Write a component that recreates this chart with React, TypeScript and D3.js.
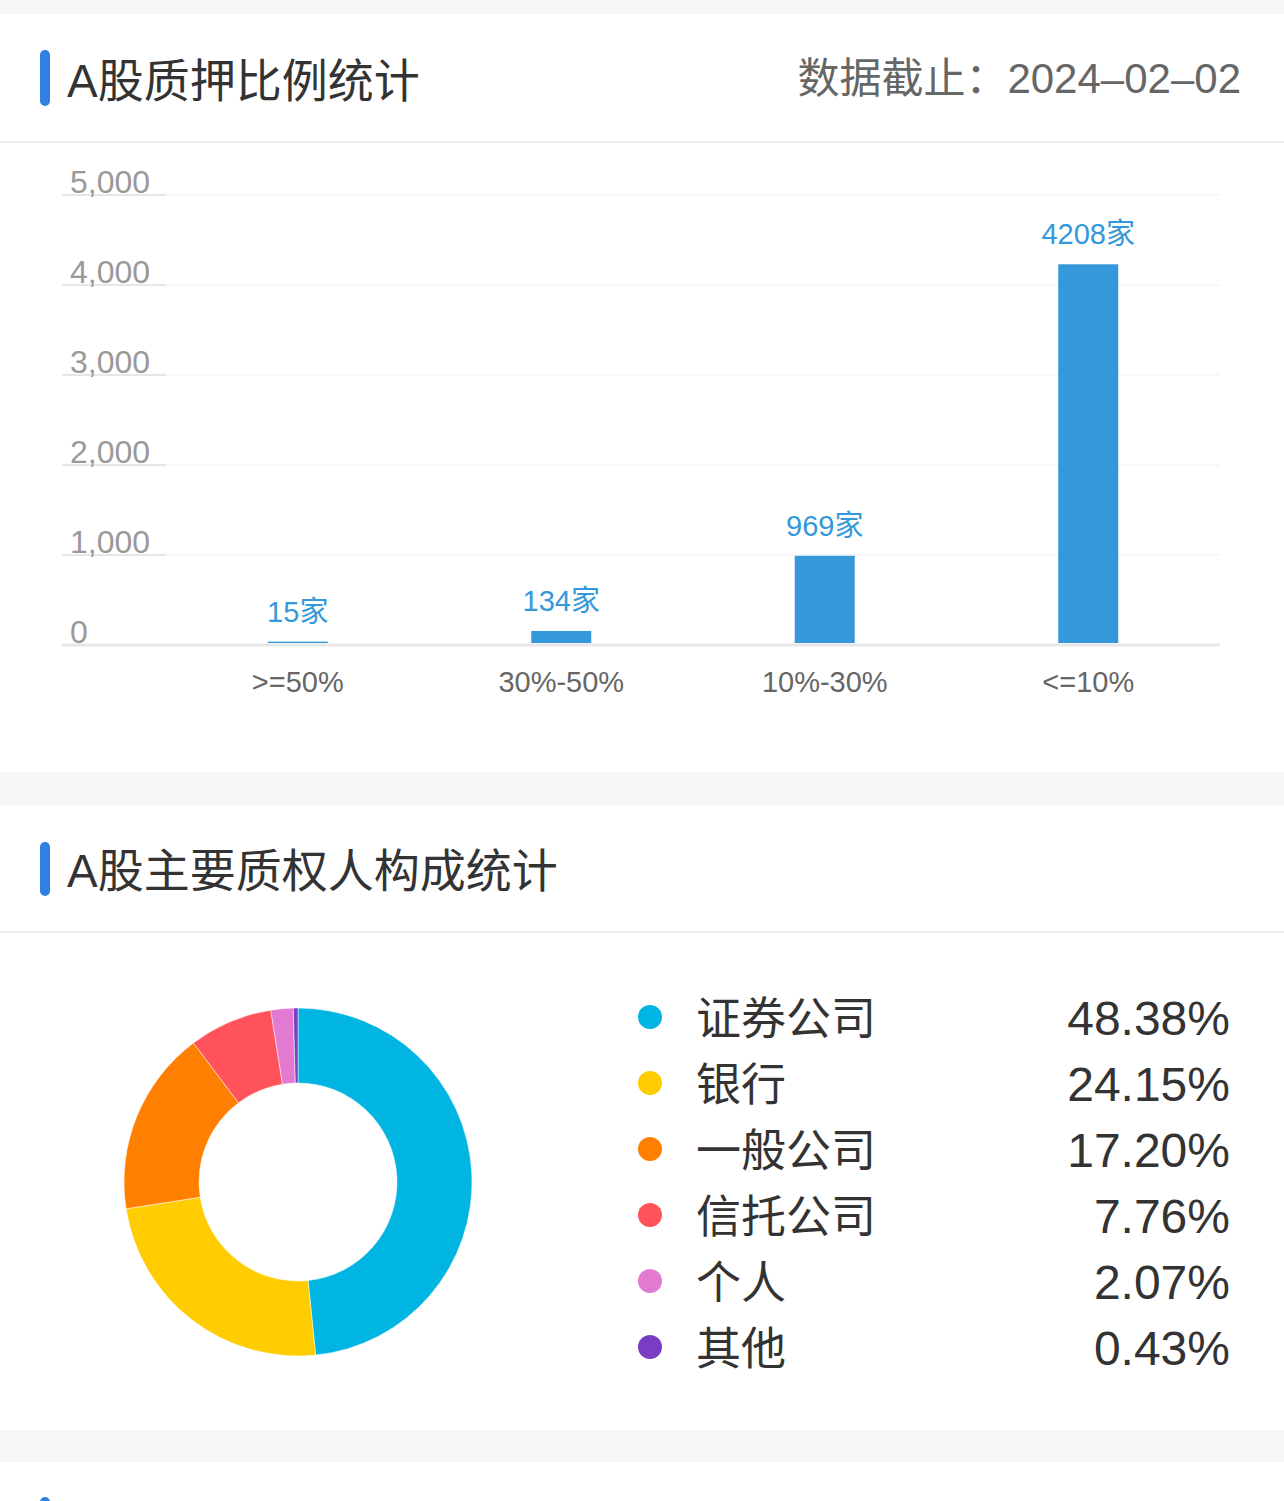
import React from "react";
import * as d3 from "d3";

const barCategories = [">=50%", "30%-50%", "10%-30%", "<=10%"];
const barValues = [15, 134, 969, 4208];
const yTicks = [0, 1000, 2000, 3000, 4000, 5000];

const pieLabels = ["证券公司", "银行", "一般公司", "信托公司", "个人", "其他"];
const pieValues = [48.38, 24.15, 17.2, 7.76, 2.07, 0.43];
const pieColors = ["#00B5E2", "#FFCC00", "#FF8000", "#FF525B", "#E37AD1", "#7A3CC2"];

const FONT = "'Liberation Sans', Arial, 'Noto Sans CJK SC', sans-serif";

export default function App() {
  const W = 1284;
  const H = 1501;

  const x = d3
    .scaleBand<string>()
    .domain(barCategories)
    .range([166, 1220])
    .paddingInner(1 - 60 / 263.5)
    .paddingOuter((1 - 60 / 263.5) / 2);
  const y = d3.scaleLinear().domain([0, 5000]).range([645, 195]);
  const fmt = d3.format(",");

  const pie = d3
    .pie<number>()
    .sort(null)
    .startAngle(0)
    .endAngle(Math.PI * 2)
    .value((d) => d);
  const arcs = pie(pieValues);
  const arc = d3.arc<d3.PieArcDatum<number>>().innerRadius(99).outerRadius(174);

  const legendY = d3.scalePoint<number>().domain(d3.range(pieLabels.length)).range([1017, 1347]);

  return (
    <svg
      width={W}
      height={H}
      style={{ position: "absolute", left: 0, top: 0, display: "block" }}
      fontFamily={FONT}
    >
      <rect x={0} y={0} width={W} height={H} fill="#ffffff" />
      {/* gray bands */}
      <rect x={0} y={0} width={W} height={14} fill="#f5f6f8" />
      <rect x={0} y={772} width={W} height={33} fill="#f5f6f8" />
      <rect x={0} y={1430} width={W} height={32} fill="#f5f6f8" />

      {/* header 1 */}
      <rect x={40} y={50} width={10} height={56} rx={5} fill="#2F80E4" />
      <text x={67} y={97} fontSize={46} fill="#333333">
        A股质押比例统计
      </text>
      <text x={1241} y={93} fontSize={42} fill="#666666" textAnchor="end">
        数据截止：2024–02–02
      </text>
      <line x1={0} x2={W} y1={142} y2={142} stroke="#eeeeee" strokeWidth={2} />

      {/* grid */}
      {yTicks.map((t) => (
        <g key={t}>
          {t === 0 ? (
            <line x1={62} x2={1220} y1={y(t)} y2={y(t)} stroke="#e8e8e8" strokeWidth={3} />
          ) : (
            <>
              <line x1={62} x2={1220} y1={y(t)} y2={y(t)} stroke="#efefef" strokeWidth={1.2} />
              <line x1={62} x2={166} y1={y(t)} y2={y(t)} stroke="#e6e6e6" strokeWidth={2} />
            </>
          )}
          <text x={70} y={y(t) - 2} fontSize={32} fill="#999999">
            {fmt(t)}
          </text>
        </g>
      ))}

      {/* bars */}
      {barCategories.map((c, i) => {
        const bx = x(c) as number;
        const cx = bx + x.bandwidth() / 2;
        const top = y(barValues[i]) - 2;
        const bottom = y(0) - 2;
        return (
          <g key={c}>
            <rect x={bx} y={top} width={x.bandwidth()} height={bottom - top} fill="#3498DB" />
            <text x={cx} y={top - 20} fontSize={29} fill="#3498DB" textAnchor="middle">
              {barValues[i]}家
            </text>
            <text x={cx} y={692} fontSize={29} fill="#666666" textAnchor="middle">
              {c}
            </text>
          </g>
        );
      })}

      {/* header 2 */}
      <rect x={40} y={842} width={10} height={54} rx={5} fill="#2F80E4" />
      <text x={67} y={887} fontSize={46} fill="#333333">
        A股主要质权人构成统计
      </text>
      <line x1={0} x2={W} y1={932} y2={932} stroke="#eeeeee" strokeWidth={2} />

      {/* donut */}
      <g transform="translate(298,1182)">
        {arcs.map((a, i) => (
          <path key={i} d={arc(a) as string} fill={pieColors[i]} stroke="#ffffff" strokeWidth={0.5} />
        ))}
      </g>

      {/* legend */}
      {pieLabels.map((l, i) => {
        const cy = legendY(i) as number;
        return (
          <g key={l}>
            <circle cx={650} cy={cy} r={12} fill={pieColors[i]} />
            <text x={696} y={cy + 18} fontSize={45} fill="#333333">
              {l}
            </text>
            <text x={1230} y={cy + 18} fontSize={48} fill="#333333" textAnchor="end">
              {pieValues[i].toFixed(2)}%
            </text>
          </g>
        );
      })}

      {/* header 3 peek */}
      <rect x={40} y={1497} width={10} height={20} rx={5} fill="#2F80E4" />
    </svg>
  );
}
